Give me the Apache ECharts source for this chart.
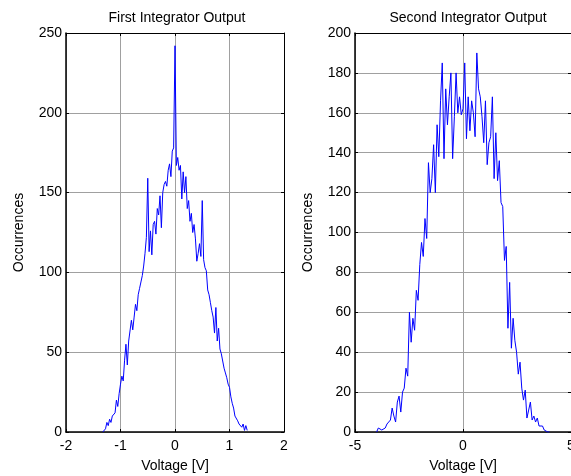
<!DOCTYPE html>
<html>
<head>
<meta charset="utf-8">
<script src="https://cdn.jsdelivr.net/npm/echarts@6/dist/echarts.min.js"></script>
<style>html,body{margin:0;padding:0;background:#fff}#c{width:571px;height:476px}</style>
</head>
<body>
<div id="c"></div>
<script>
// ---- data ----
const titles = ['First Integrator Output', 'Second Integrator Output'];
const xAxisName = 'Voltage [V]';
const yAxisName = 'Occurrences';

// First integrator histogram: bins from -1.325 V, width 0.025 V
const firstBinStart = -1.325;
const firstBinWidth = 0.025;
const firstCounts = [
  0, 1, 2, 6, 4, 8, 6, 10, 9, 12,
  20, 16, 24, 30, 35, 32, 45, 55, 42, 57,
  58, 70, 64, 72, 80, 76, 86, 90, 94, 98,
  104, 112, 122, 159, 113, 126, 111, 130, 132, 124,
  140, 136, 148, 128, 150, 155, 157, 154, 164, 168,
  160, 176, 178, 242, 167, 172, 164, 167, 146, 163,
  150, 160, 140, 145, 132, 137, 125, 130, 121, 107,
  112, 118, 110, 145, 108, 103, 101, 89, 86, 81,
  76, 72, 62, 78, 57, 65, 52, 49, 50, 40,
  37, 34, 30, 28, 22, 18, 15, 10, 11, 7,
  5, 4, 3, 5, 1, 4, 1
];

// Second integrator histogram: bins from -4.0 V, width 0.08 V
const secondBinStart = -4.0;
const secondBinWidth = 0.08;
const secondCounts = [
  0, 2, 3, 1, 2, 2, 4, 3, 6, 12,
  8, 5, 15, 18, 10, 20, 22, 32, 28, 60,
  45, 57, 51, 71, 66, 84, 95, 88, 107, 97,
  135, 120, 127, 144, 120, 154, 138, 166, 185, 137,
  172, 154, 168, 180, 137, 158, 180, 160, 168, 159,
  162, 185, 147, 168, 151, 166, 160, 148, 190, 172,
  168, 158, 145, 166, 134, 145, 148, 168, 127, 150,
  126, 136, 115, 113, 86, 93, 52, 75, 42, 57,
  46, 40, 29, 35, 22, 16, 21, 7, 11, 15,
  6, 8, 5, 7, 3, 2, 3, 1, 1, 0, 0
];

const firstXTicks = { min: -2, max: 2, interval: 1 };
const firstYTicks = { min: 0, max: 250, interval: 50 };
const secondXTicks = { min: -5, max: 5, interval: 5 };
const secondYTicks = { min: 0, max: 200, interval: 20 };

function pairs(start, width, counts) {
  return counts.map((c, i) => [+(start + i * width).toFixed(4), c]);
}

const font = 'Liberation Sans, Arial, Helvetica, sans-serif';
const labelStyle = { color: '#000', fontSize: 14, fontFamily: font };

function mainX(gi, t) {
  return {
    gridIndex: gi, type: 'value', min: t.min, max: t.max, interval: t.interval,
    name: xAxisName, nameLocation: 'middle', nameGap: 27,
    nameTextStyle: { color: '#000', fontSize: 14, fontFamily: font },
    axisLine: { onZero: false, lineStyle: { color: '#000', width: 1.5 } },
    axisTick: { inside: true, length: 3, lineStyle: { color: '#000' } },
    axisLabel: Object.assign({ margin: 7 }, labelStyle),
    splitLine: { show: true, lineStyle: { color: '#a0a0a0', width: 1 } }
  };
}
function mainY(gi, t, gap) {
  return {
    gridIndex: gi, type: 'value', min: t.min, max: t.max, interval: t.interval,
    name: yAxisName, nameLocation: 'middle', nameGap: gap,
    nameTextStyle: { color: '#000', fontSize: 14, fontFamily: font },
    axisLine: { onZero: false, lineStyle: { color: '#000', width: 1.5 } },
    axisTick: { inside: true, length: 3, lineStyle: { color: '#000' } },
    axisLabel: Object.assign({ margin: 4 }, labelStyle),
    splitLine: { show: true, lineStyle: { color: '#a0a0a0', width: 1 } }
  };
}
function sideX(gi, t) {
  return {
    gridIndex: gi, type: 'value', position: 'top', min: t.min, max: t.max, interval: t.interval,
    axisLine: { onZero: false, lineStyle: { color: '#000', width: 1 } },
    axisTick: { inside: true, length: 3, lineStyle: { color: '#000' } },
    axisLabel: { show: false }, splitLine: { show: false }
  };
}
function sideY(gi, t) {
  return {
    gridIndex: gi, type: 'value', position: 'right', min: t.min, max: t.max, interval: t.interval,
    axisLine: { onZero: false, lineStyle: { color: '#000', width: 1 } },
    axisTick: { inside: true, length: 3, lineStyle: { color: '#000' } },
    axisLabel: { show: false }, splitLine: { show: false }
  };
}

const chart = echarts.init(document.getElementById('c'), null, { renderer: 'canvas' });
chart.setOption({
  backgroundColor: '#fff',
  animation: false,
  title: [
    { text: titles[0], left: 172, top: 6, textAlign: 'center',
      textStyle: { fontSize: 14, fontWeight: 'normal', color: '#000', fontFamily: font } },
    { text: titles[1], left: 463, top: 6, textAlign: 'center',
      textStyle: { fontSize: 14, fontWeight: 'normal', color: '#000', fontFamily: font } }
  ],
  grid: [
    { left: 66, right: 287, top: 33, bottom: 44, containLabel: false, outerBoundsMode: 'none' },
    { left: 355, right: 0, top: 33, bottom: 44, containLabel: false, outerBoundsMode: 'none' }
  ],
  xAxis: [mainX(0, firstXTicks), mainX(1, secondXTicks), sideX(0, firstXTicks), sideX(1, secondXTicks)],
  yAxis: [mainY(0, firstYTicks, 40), mainY(1, secondYTicks, 40), sideY(0, firstYTicks), sideY(1, secondYTicks)],
  series: [
    { type: 'line', xAxisIndex: 0, yAxisIndex: 0, showSymbol: false, symbol: 'none',
      lineStyle: { color: '#0000ff', width: 1 },
      data: pairs(firstBinStart, firstBinWidth, firstCounts) },
    { type: 'line', xAxisIndex: 1, yAxisIndex: 1, showSymbol: false, symbol: 'none',
      lineStyle: { color: '#0000ff', width: 1 },
      data: pairs(secondBinStart, secondBinWidth, secondCounts) }
  ]
});
</script>
</body>
</html>
